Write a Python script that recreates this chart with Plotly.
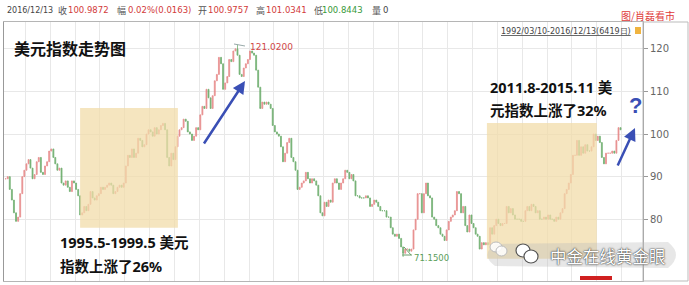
import plotly.graph_objects as go
import pandas as pd

# ---------------- data (monthly closes) ----------------
start_month = "1992-03-01"
closes = [
    # 1992 Mar-Dec
    89.5, 90.0, 87.0, 84.5, 81.5, 79.5, 80.5, 86.0, 90.0, 91.5,
    # 1993
    93.0, 94.0, 92.0, 89.5, 90.5, 93.5, 94.5, 91.0, 90.5, 92.5, 93.5, 96.0,
    # 1994
    96.5, 94.5, 93.0, 91.5, 92.0, 88.5, 88.0, 89.0, 87.5, 86.5, 89.0, 88.5,
    # 1995
    87.0, 85.5, 81.0, 81.5, 83.0, 82.0, 83.5, 86.5, 85.0, 84.5, 85.5, 86.0,
    # 1996
    87.5, 87.0, 87.5, 88.0, 88.5, 88.0, 86.0, 86.5, 87.5, 88.0, 87.5, 88.5,
    # 1997
    92.5, 95.0, 94.5, 96.5, 94.5, 95.5, 99.0, 98.5, 97.0, 97.5, 100.0, 101.0,
    # 1998
    100.5, 99.5, 101.5, 100.0, 101.0, 102.0, 102.5, 101.0, 94.5, 92.5, 95.5, 94.0,
    # 1999
    97.0, 99.5, 101.0, 101.5, 103.5, 103.0, 100.5, 100.0, 98.5, 99.5, 101.5, 101.0,
    # 2000
    104.5, 106.5, 106.0, 110.5, 108.5, 106.0, 109.0, 112.5, 114.0, 118.0, 116.5, 110.5,
    # 2001
    112.0, 113.5, 117.5, 117.0, 119.5, 120.0, 118.5, 114.0, 113.5, 115.5, 116.5, 117.5,
    # 2002
    119.5, 119.0, 118.5, 115.0, 111.0, 106.0, 107.5, 107.0, 107.5, 107.0, 106.0, 102.0,
    # 2003
    100.5, 100.0, 99.5, 97.0, 93.5, 95.5, 98.0, 99.0, 94.5, 93.5, 91.5, 87.0,
    # 2004
    87.5, 88.5, 89.0, 91.0, 89.5, 88.5, 89.5, 89.0, 88.0, 85.5, 81.5, 80.8,
    # 2005
    84.0, 83.0, 84.5, 84.0, 88.5, 89.5, 88.5, 87.0, 88.5, 89.5, 91.5, 91.0,
    # 2006
    89.5, 90.5, 89.0, 85.5, 85.5, 85.0, 85.0, 85.0, 85.5, 85.0, 83.0, 83.5,
    # 2007
    84.5, 84.0, 83.0, 82.0, 82.0, 82.0, 80.5, 80.5, 78.0, 76.5, 76.0, 76.5,
    # 2008
    75.5, 73.5, 72.0, 73.0, 73.0, 72.5, 73.0, 77.5, 80.0, 86.0, 86.0, 81.5,
    # 2009
    86.0, 88.5, 85.5, 85.0, 80.5, 80.0, 78.5, 78.0, 76.5, 76.0, 75.0, 77.5,
    # 2010
    79.5, 80.5, 81.0, 82.0, 86.5, 86.0, 81.5, 83.0, 78.5, 77.0, 81.0, 79.0,
    # 2011
    78.0, 76.5, 76.0, 73.0, 74.5, 74.0, 74.5, 74.0, 78.0, 76.5, 78.5, 80.0,
    # 2012
    79.0, 78.5, 79.0, 79.0, 83.0, 81.5, 82.5, 81.0, 80.0, 80.0, 80.0, 79.5,
    # 2013
    79.5, 82.0, 83.0, 82.0, 83.5, 83.0, 81.5, 82.0, 80.0, 80.0, 80.5, 80.0,
    # 2014
    81.0, 80.0, 80.0, 79.5, 80.5, 80.0, 81.5, 82.5, 86.0, 87.0, 88.5, 90.5,
    # 2015
    95.0, 95.0, 98.5, 95.0, 97.0, 95.5, 97.5, 96.0, 96.0, 97.0, 100.0, 98.5,
    # 2016
    99.5, 98.0, 94.5, 93.0, 95.5, 95.5, 95.5, 96.0, 95.5, 98.5, 101.5, 101.0,
]
high_month, high_value = "2001-07", 121.02
low_month, low_value = "2008-03", 71.15
y_ticks = [80, 90, 100, 110, 120]
period1 = ("1995-03-15", "1999-02-20", 78.0, 106.1)
period2 = ("2011-07-30", "2016-01-01", 70.7, 102.6)

dates = pd.date_range(start_month, periods=len(closes), freq="MS") + pd.Timedelta(days=14)
months = list(dates.strftime("%Y-%m"))
opens = [closes[0]] + closes[:-1]
highs = [max(o, c) for o, c in zip(opens, closes)]
lows = [min(o, c) for o, c in zip(opens, closes)]
highs[months.index(high_month)] = high_value
lows[months.index(low_month)] = low_value
high_date = dates[months.index(high_month)]
low_date = dates[months.index(low_month)]

# ---------------- figure ----------------
W, H = 689, 285
L, R, T, B = 4, 46, 22, 4
PW, PH = W - L - R, H - T - B


def px(x):
    return (x - L) / PW


def py(y):
    return (H - B - y) / PH


fig = go.Figure()
fig.add_trace(go.Candlestick(
    x=dates, open=opens, high=highs, low=lows, close=closes,
    increasing=dict(line=dict(color="#e68484", width=0.8), fillcolor="#e68484"),
    decreasing=dict(line=dict(color="#66aa66", width=0.8), fillcolor="#66aa66"),
    whiskerwidth=0, showlegend=False, hoverinfo="skip", opacity=0.9,
))

CJK = "Noto Sans CJK SC"
NUM = "DejaVu Sans"
BOLDF = "Noto Sans, Noto Sans CJK SC"
RED = "#d23a3a"
GREEN = "#3a9a3a"
BLUE = "#3a4fb5"

ann = []


def txt(text, x, y, size, color, family, anchor="left", bold=False, **kw):
    ann.append(dict(text=text, x=px(x), y=py(y), xref="paper", yref="paper",
                    xanchor=anchor, yanchor="middle", showarrow=False,
                    font=dict(size=size, color=color, family=family,
                              weight="bold" if bold else "normal", **kw)))


# top info bar
top_items = [
    ("2016/12/13", 5, "#444", NUM, 8), ("收", 56, "#555", CJK, 9),
    ("100.9872", 66, RED, NUM, 8.5), ("幅", 115, "#555", CJK, 9),
    ("0.02%(0.0163)", 126, RED, NUM, 8.5), ("开", 196, "#555", CJK, 9),
    ("100.9757", 206, RED, NUM, 8.5), ("高", 254, "#555", CJK, 9),
    ("101.0341", 264, RED, NUM, 8.5), ("低", 312, "#555", CJK, 9),
    ("100.8443", 320, GREEN, NUM, 8.5), ("量", 370, "#555", CJK, 9),
    ("0", 381, "#444", NUM, 8.5),
]
for t, x, c, f, s in top_items:
    txt(t, x, 10, s, c, f)
txt("图/肖磊看市", 648, 15, 10, "#e03a3a", CJK, anchor="center")
txt("<u>1992/03/10-2016/12/13(6419日)</u>", 633, 31, 8, "#444", NUM, anchor="right")

# title & annotations
txt("美元指数走势图", 12, 48, 16, "#111", CJK, bold=True)
txt("1995.5-1999.5 美元", 58, 242, 14.5, "#111", BOLDF, bold=True)
txt("指数上涨了26%", 58, 266, 14.5, "#111", BOLDF, bold=True)
txt("2011.8-2015.11 美", 488, 87, 14.5, "#111", BOLDF, bold=True)
txt("元指数上涨了32%", 488, 110, 14.5, "#111", BOLDF, bold=True)
txt("?", 635, 105, 22, BLUE, "Liberation Sans", anchor="center", bold=True)

shapes = []
for (x0, x1, y0, y1) in [period1, period2]:
    shapes.append(dict(type="rect", xref="x", yref="y", x0=x0, x1=x1, y0=y0, y1=y1,
                       fillcolor="#f2dcaa", opacity=0.75, line=dict(width=0), layer="above"))

# watermark blob & wechat logo
shapes.append(dict(type="path", xref="paper", yref="paper", layer="above",
                   path=(f"M {px(495)},{py(244)} L {px(668)},{py(242)} "
                         f"Q {px(684)},{py(255)} {px(668)},{py(268)} "
                         f"L {px(495)},{py(266)} Q {px(480)},{py(255)} {px(495)},{py(244)} Z"),
                   fillcolor="rgba(185,185,185,0.35)", line=dict(width=0)))
shapes.append(dict(type="circle", xref="paper", yref="paper", x0=px(516), x1=px(530),
                   y0=py(257), y1=py(244), fillcolor="#ffffff",
                   line=dict(color="#555", width=1.2), layer="above"))
shapes.append(dict(type="circle", xref="paper", yref="paper", x0=px(524), x1=px(538),
                   y0=py(263), y1=py(250), fillcolor="#ffffff",
                   line=dict(color="#555", width=1.2), layer="above"))
shapes.append(dict(type="circle", xref="paper", yref="paper", x0=px(490), x1=px(502),
                   y0=py(252), y1=py(242), fillcolor="rgba(255,255,255,0.85)",
                   line=dict(color="#bbb", width=1), layer="above"))
shapes.append(dict(type="circle", xref="paper", yref="paper", x0=px(496), x1=px(507),
                   y0=py(256), y1=py(246), fillcolor="rgba(255,255,255,0.85)",
                   line=dict(color="#bbb", width=1), layer="above"))

# watermark text
ann.append(dict(text="中金在线黄金眼", x=px(608), y=py(256), xref="paper", yref="paper",
                xanchor="center", yanchor="middle", showarrow=False,
                font=dict(size=16.5, color="#ffffff", family=CJK,
                          shadow="0px 0px 2px #333, 0px 0px 1px #333")))

# high / low labels (data coords)
ann.append(dict(text="121.0200", x=high_date, y=high_value, xref="x", yref="y",
                xanchor="left", yanchor="middle", showarrow=False, xshift=10, yshift=-3,
                font=dict(size=9, color="#d04848", family=NUM)))
ann.append(dict(text="71.1500", x=low_date, y=low_value, xref="x", yref="y",
                xanchor="left", yanchor="middle", showarrow=False, xshift=9, yshift=-1,
                font=dict(size=8.5, color="#5a9e5a", family=NUM)))

# arrows
for (x0, y0, x1, y1) in [(203, 145, 245, 81), (617, 167, 635, 128)]:
    ann.append(dict(text="", x=px(x1), y=py(y1), xref="paper", yref="paper",
                    ax=x0 - x1, ay=y0 - y1, axref="pixel", ayref="pixel",
                    showarrow=True, arrowhead=2, arrowsize=1, arrowwidth=2.5,
                    arrowcolor=BLUE))

# high / low pointer lines
shapes.append(dict(type="line", xref="paper", yref="paper", x0=px(234), y0=py(44),
                   x1=px(245), y1=py(46), line=dict(color="#9aa", width=1)))
shapes.append(dict(type="line", xref="paper", yref="paper", x0=px(404), y0=py(247),
                   x1=px(411), y1=py(255), line=dict(color="#6a9e6a", width=1)))
shapes.append(dict(type="line", xref="paper", yref="paper", x0=px(402), y0=py(255),
                   x1=px(412), y1=py(255), line=dict(color="#6a9e6a", width=1)))

# red bar at bottom
shapes.append(dict(type="rect", xref="paper", yref="paper", x0=px(580), x1=px(612),
                   y0=py(280), y1=py(276), fillcolor="#d02020", line=dict(width=0)))
# small icon near date range
shapes.append(dict(type="rect", xref="paper", yref="paper", x0=px(635), x1=px(641),
                   y0=py(34), y1=py(27), fillcolor="#f0b440", line=dict(width=0)))
# right panel frame
shapes.append(dict(type="rect", xref="paper", yref="paper", x0=1, x1=px(688),
                   y0=0, y1=1, line=dict(color="#bbbbbb", width=1)))

fig.update_layout(
    width=W, height=H, margin=dict(l=L, r=R, t=T, b=B),
    paper_bgcolor="white", plot_bgcolor="white",
    annotations=ann, shapes=shapes, showlegend=False,
    xaxis=dict(type="date", range=["1992-02-20", "2017-11-10"],
               showgrid=True, gridcolor="#e8e8e8", gridwidth=1,
               dtick="M12", tick0="1993-01-01", showticklabels=False, ticks="",
               showline=True, linecolor="#b5b5b5", mirror=True, zeroline=False,
               rangeslider=dict(visible=False), fixedrange=True),
    yaxis=dict(side="right", range=[65.5, 126.3], tickvals=y_ticks,
               showgrid=True, gridcolor="#e8e8e8", ticks="outside", ticklen=4,
               tickcolor="#999", tickfont=dict(size=10, color="#666", family=NUM),
               showline=True, linecolor="#999", mirror=True, zeroline=False,
               fixedrange=True),
)

fig.write_html("out.html")
